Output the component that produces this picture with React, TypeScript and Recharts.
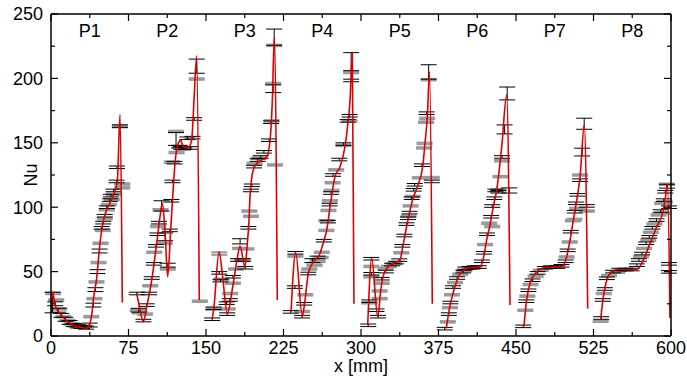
import React from "react";
import { ComposedChart, Line, Scatter, ErrorBar, XAxis, YAxis, Label } from "recharts";

const FONT = '"Liberation Sans", Arial, Helvetica, sans-serif';

// axis ticks (minor ticks between the labelled ones)
const xTicks = [0, 37.5, 75, 112.5, 150, 187.5, 225, 262.5, 300, 337.5, 375, 412.5, 450, 487.5, 525, 562.5, 600];
const yTicks = [0, 25, 50, 75, 100, 125, 150, 175, 200, 225, 250];

const periodNames = ["P1", "P2", "P3", "P4", "P5", "P6", "P7", "P8"];
const periodCenters = [37.5, 112.5, 187.5, 262.5, 337.5, 412.5, 487.5, 562.5];

// simulated Nu curve, one list per period: [x mm, Nu]
const p1 = [[0, 18], [1.5, 34], [4, 24], [8, 18], [12, 14.5], [17, 10.5], [22, 8], [28, 7], [34, 6], [37.7, 10], [40, 20], [41, 28], [44.2, 45], [47.4, 72], [50.6, 89], [53.9, 98], [58.7, 106], [62, 113], [64.2, 120], [66.8, 172], [69, 26]];
const p2 = [[83, 33], [86, 21], [89.3, 11], [92.6, 22.6], [97.4, 43], [102.3, 72], [105.5, 92.6], [107.7, 103], [110.3, 82], [112.9, 46], [115.8, 82], [118.4, 116], [120, 134], [123.2, 149.6], [125.5, 152], [128, 147], [132.9, 146.5], [136.1, 152], [138.4, 183], [141, 217.6], [143.5, 28]];
const p3 = [[156.1, 13.5], [157.7, 22.6], [162.6, 65.3], [166.1, 46], [170.6, 17.4], [175.8, 38], [179.7, 57.6], [182.9, 69.8], [187.7, 53.7], [190, 72], [191.5, 88], [192.6, 108], [195.8, 129], [200.6, 135], [208.7, 139], [212, 152], [214.2, 183], [216.1, 232], [219, 28]];
const p4 = [[232.3, 18.7], [236.8, 64.6], [243.2, 15.3], [245.8, 27.8], [249, 48.5], [253.9, 57.6], [260.3, 64], [264.2, 74.4], [266.8, 82], [270, 100], [274.8, 123.7], [279.7, 131.5], [284.5, 147], [287.7, 167.8], [289.4, 183], [291.6, 220], [293.2, 25]];
const p5 = [[306.5, 8.3], [310.4, 60.2], [316.2, 14.8], [319.1, 35.5], [322.3, 48.5], [328, 55], [337.7, 58.9], [340.4, 69.2], [344.2, 85], [350, 106], [355, 117], [359.7, 131.5], [361.9, 149.6], [364.2, 170], [366.3, 205], [369, 25]];
const p6 = [[382.5, 6], [386, 23], [389, 33], [392, 41], [395.8, 48.5], [400.6, 51.5], [405, 53], [415.2, 53.5], [418.4, 60.2], [421.6, 74.4], [424.8, 86], [428, 100.3], [431.3, 113.3], [436.2, 147], [441, 187.2], [444.2, 24]];
const p7 = [[457.7, 7.5], [460.3, 27.8], [463.5, 40.8], [470, 49.8], [478, 53.2], [494.2, 53.7], [499, 61.4], [502.3, 74.4], [505.5, 90], [510.3, 113.3], [512, 123.7], [516.1, 164], [519.4, 21.3]];
const p8 = [[532, 13.5], [534.5, 30.3], [537.8, 43.3], [542.6, 49.8], [547.5, 51.6], [566.8, 51.6], [573.2, 58.9], [579.7, 71.9], [586.2, 84.8], [592.6, 97.8], [595, 110], [596.6, 118], [599, 14]];

// measurements: [x mm, Nu, error]
const blackBars = [
  [1.5, 26, 8], [4, 25, 1.5], [7, 20, 1.5], [10, 16, 1.5], [14, 13, 1.5], [18, 10.5, 1.5], [22, 8.5, 1.2], [26, 7.5, 1.2], [30, 7, 1.2], [34, 6.5, 1.2], [37.5, 8.5, 1.5],
  [41, 24, 1.5], [43, 36, 1.5], [45, 50, 1.5], [47, 66, 1.5], [49, 84, 1], [50.5, 88, 1], [52, 93.4, 1], [54, 100, 1], [57, 105.5, 1], [58, 109, 1], [60.5, 113, 1], [63.5, 120, 1], [63.8, 131, 1], [66.8, 163, 1],
  [83, 33, 1], [85, 20, 1.5], [89.5, 12, 1], [92.5, 24, 1], [95, 33, 1], [97.5, 45, 1], [99.5, 56, 1], [101.5, 70, 1], [103, 79, 1], [104.5, 88, 1], [107, 101, 4], [110.5, 77, 3], [113, 55, 1.5],
  [115, 82, 1], [116.5, 105, 1], [117.5, 120, 1], [119.5, 134.6, 1], [121, 153, 5], [124, 147, 1], [126, 146, 1], [128, 145.5, 1], [132, 153.5, 1], [135, 146, 1], [137, 154, 1], [138.5, 168.5, 1], [141, 209.5, 5.5],
  [156, 13, 1], [157.5, 21.5, 1], [162.8, 49, 1], [164, 43, 1], [170, 25.5, 1], [170.5, 17, 1], [173, 28, 1], [176, 46, 1], [181, 59, 1], [183, 73.5, 2], [186, 59, 1], [188, 53, 1],
  [191, 84, 1], [193.5, 113, 1], [194.5, 117, 1], [196.5, 131.5, 1], [200, 136.6, 1], [203, 139, 1], [206, 143, 1], [211, 152, 1], [213, 166, 1], [215, 192, 3], [216, 232, 6.3],
  [232, 18.7, 1], [236, 38, 1], [236.5, 64.6, 1], [243, 15, 1], [245, 25, 1], [249, 48.5, 1], [253, 58.5, 1.5], [258, 61, 1], [264, 74, 1], [268, 88.8, 1], [269.5, 102, 1], [271, 111, 1],
  [273, 125, 1], [279, 137, 1], [283, 149, 1], [287, 167, 1], [289, 171, 1], [290.5, 213, 7], [290.5, 198.4, 1],
  [307, 8.3, 1], [310, 60, 1], [310, 48.3, 1], [308, 27, 1], [315, 20, 1], [316.5, 15, 1], [320, 44.5, 1], [324, 50, 1], [330, 55.5, 1], [334, 57, 1], [337, 58.9, 1], [340, 70, 1], [342, 78, 1],
  [344, 86.9, 1], [345.5, 91.4, 1], [347, 95.8, 1], [349, 107, 1], [351, 113.5, 1], [352, 117.4, 1], [359, 132.6, 1], [363.5, 173, 1], [365.5, 205, 5.6], [368.5, 120, 1],
  [381, 5.7, 1], [385, 17, 1], [386.5, 26, 1], [389, 38, 1], [393, 45, 1], [399, 50, 1], [401, 52.5, 1], [405, 53, 1], [410, 53.5, 1], [414, 53.5, 1], [417, 58, 1], [419, 64.6, 1], [422, 79, 1],
  [426, 92.6, 1], [427, 100.9, 1], [429, 107, 1], [430, 113, 1], [433, 112, 1], [436.5, 139, 1], [439, 160.4, 3.5], [441.5, 188.3, 5], [443.5, 113, 2],
  [457, 7.5, 1], [460, 27, 1], [462, 35.5, 1], [466, 43.3, 1], [471, 49, 1], [478, 53, 1], [484, 53.5, 1], [490, 53.5, 1], [494, 54.5, 1], [498, 58, 1], [500, 66.5, 1], [503, 81, 1],
  [507, 96.5, 1], [508, 103, 1], [509.5, 109.6, 1], [512, 121, 1], [514, 142.8, 3], [516, 164.8, 4.3], [518.5, 101, 1],
  [532.5, 14, 1], [534, 28, 1], [536, 36.5, 1], [538, 44.8, 1], [544, 50, 1], [550, 51.6, 1], [556, 51.6, 1], [562, 51.6, 1], [567, 55, 1], [569, 59, 1], [572, 64, 1], [576, 72, 1], [579, 77, 1],
  [582, 84, 1], [586, 90, 1], [590, 97, 1], [593, 105.5, 1], [594.5, 112, 1], [596, 116.3, 1.5], [598, 100, 1], [598, 56, 1], [598, 49.8, 1],
];
const grayBars = [
  [2, 33, 0.6], [5, 28, 0.6], [8, 21, 0.6], [12, 15, 0.6], [16, 12, 0.6], [20, 9.5, 0.6], [24, 8, 0.6], [28, 7, 0.6], [32, 7.5, 0.6], [39, 15, 0.6], [42, 29, 0.6], [44, 42, 0.6], [46, 57, 0.6],
  [48, 72, 0.6], [50, 82, 0.6], [52, 91, 0.6], [54, 98, 0.6], [56, 102, 0.6], [59, 106, 0.6], [61, 110, 0.6], [66.5, 162.5, 0.6], [69, 118, 0.6], [69, 115, 0.6],
  [84, 20, 0.6], [86, 18, 0.6], [91, 17, 0.6], [96, 39, 0.6], [100, 65, 0.6], [103.5, 85, 0.6], [106, 98, 0.6], [110, 72, 0.6], [113, 52, 0.6], [117, 135, 0.6], [121, 158.8, 0.6],
  [121.5, 142.4, 0.6], [125, 147, 0.6], [129, 146, 0.6], [141, 199.5, 0.6], [144, 27, 0.6],
  [157, 21, 0.6], [162.8, 64, 1], [165, 44, 0.6], [171, 21, 0.6], [173.5, 33, 0.6], [176, 41, 0.6], [179, 52, 0.6], [183, 68, 0.6], [185, 59, 0.6], [189, 67.6, 0.6], [192, 97, 0.6],
  [193.5, 93, 0.6], [197, 134, 0.6], [201, 138, 0.6], [213.5, 167, 0.6], [215, 196, 0.6], [216, 225.6, 0.6], [216.8, 132.8, 0.6],
  [236.5, 62, 0.6], [243, 19, 0.6], [246, 32, 0.6], [250, 52, 0.6], [255, 55, 0.6], [258, 58, 0.6], [261, 61, 0.6], [262, 65, 0.6], [266.5, 82, 0.6], [266.5, 89.5, 0.6], [268.5, 97.5, 0.6],
  [270, 105, 0.6], [271.5, 113, 0.6], [272.5, 119, 0.6], [276, 129, 0.6], [283, 148, 0.6], [289, 167, 0.6], [290.5, 204.6, 0.6],
  [310, 54, 0.6], [310, 46, 0.6], [308, 25.8, 0.6], [318, 35, 0.6], [318, 29, 0.6], [320, 41, 0.6], [324, 52.5, 0.6], [327, 54, 0.6], [332, 56, 0.6], [339, 64.6, 0.6], [346, 93, 0.6],
  [348, 101, 0.6], [350, 108.3, 0.6], [357, 122.8, 0.6], [361, 146, 0.6], [361.5, 149.5, 0.6], [363, 166, 0.6], [364, 169, 0.6], [365.5, 199, 0.6], [368.5, 123, 0.6],
  [384, 11, 0.6], [386, 22, 0.6], [388, 32, 0.6], [391, 41.5, 0.6], [396, 48, 0.6], [400, 51, 0.6], [408, 52.5, 0.6], [420, 71, 0.6], [424, 87.5, 0.6], [427, 85, 0.6], [433, 113.4, 0.6],
  [435, 123.7, 0.6], [436.5, 136, 0.6],
  [459, 20, 0.6], [461, 31, 0.6], [464, 40, 0.6], [469, 46.5, 0.6], [474, 51, 0.6], [499, 61.4, 0.6], [502, 73, 0.6], [505, 89.5, 0.6], [506.5, 90.5, 0.6], [509, 99, 0.6], [512, 125, 0.6], [518.5, 97, 0.6],
  [532, 11.5, 0.6], [535, 33, 0.6], [540, 47, 0.6], [548, 49.5, 0.6], [571, 61.4, 0.6], [574, 68, 0.6], [578, 74.5, 0.6], [580.5, 80.6, 0.6], [584, 87, 0.6], [588, 94, 0.6], [591.5, 103, 0.6],
  [592, 95.5, 0.6], [594, 104, 0.6], [596, 117.8, 0.6],
];

const curves = [p1, p2, p3, p4, p5, p6, p7, p8].map((c) => c.map(([x, y]) => ({ x, y })));
const blackData = blackBars.map(([x, y, err]) => ({ x, y, err }));
const grayData = grayBars.map(([x, y, err]) => ({ x, y, err }));
const labelData = periodNames.map((name, i) => ({ x: periodCenters[i], y: 232, name }));

const isMajorX = (v: number) => v % 75 === 0;
const isMajorY = (v: number) => v % 50 === 0;

function BottomTick({ x, y, payload }: any) {
  const major = isMajorX(payload.value);
  return (
    <g>
      <line x1={x} x2={x} y1={y} y2={y - (major ? 7 : 4)} stroke="#000" strokeWidth={1.2} />
      {major && (
        <text x={x} y={y + 17.5} textAnchor="middle" fontSize={18} fontFamily={FONT} fill="#000">
          {payload.value}
        </text>
      )}
    </g>
  );
}

function TopTick({ x, y, payload }: any) {
  const major = isMajorX(payload.value);
  return <line x1={x} x2={x} y1={y} y2={y + (major ? 7 : 4)} stroke="#000" strokeWidth={1.2} />;
}

function LeftTick({ x, y, payload }: any) {
  const major = isMajorY(payload.value);
  return (
    <g>
      <line x1={x} x2={x + (major ? 7 : 4)} y1={y} y2={y} stroke="#000" strokeWidth={1.2} />
      {major && (
        <text x={x - 8} y={y} dy="0.36em" textAnchor="end" fontSize={18} fontFamily={FONT} fill="#000">
          {payload.value}
        </text>
      )}
    </g>
  );
}

function RightTick({ x, y, payload }: any) {
  const major = isMajorY(payload.value);
  return <line x1={x} x2={x - (major ? 7 : 4)} y1={y} y2={y} stroke="#000" strokeWidth={1.2} />;
}

const noDot = () => <g />;

export default function App() {
  return (
    <div style={{ position: "absolute", left: 0, top: 0, background: "#fff" }}>
      <ComposedChart width={687} height={380} margin={{ top: 13, right: 15, bottom: 0, left: 0 }}>
        <XAxis
          dataKey="x"
          type="number"
          domain={[0, 600]}
          ticks={xTicks}
          interval={0}
          allowDataOverflow
          height={44}
          tickSize={0}
          tickMargin={0}
          tickLine={false}
          axisLine={{ stroke: "#000", strokeWidth: 1.5 }}
          tick={(p: any) => <BottomTick {...p} />}
        >
          <Label
            content={({ viewBox }: any) => (
              <text x={viewBox.x + viewBox.width / 2} y={viewBox.y + 36} textAnchor="middle" fontSize={18} fontFamily={FONT} fill="#000">
                x [mm]
              </text>
            )}
          />
        </XAxis>
        <XAxis
          xAxisId="top"
          orientation="top"
          dataKey="x"
          type="number"
          domain={[0, 600]}
          ticks={xTicks}
          interval={0}
          allowDataOverflow
          height={1}
          tickSize={0}
          tickMargin={0}
          tickLine={false}
          axisLine={{ stroke: "#000", strokeWidth: 1.5 }}
          tick={(p: any) => <TopTick {...p} />}
        />
        <YAxis
          type="number"
          domain={[0, 250]}
          ticks={yTicks}
          interval={0}
          allowDataOverflow
          width={51}
          tickSize={0}
          tickMargin={0}
          tickLine={false}
          axisLine={{ stroke: "#000", strokeWidth: 1.5 }}
          tick={(p: any) => <LeftTick {...p} />}
        >
          <Label
            content={({ viewBox }: any) => {
              const cx = 31;
              const cy = viewBox.y + viewBox.height / 2;
              return (
                <text x={cx} y={cy} transform={`rotate(-90, ${cx}, ${cy})`} textAnchor="middle" dy="0.36em" fontSize={18} fontFamily={FONT} fill="#000">
                  Nu
                </text>
              );
            }}
          />
        </YAxis>
        <YAxis
          yAxisId="right"
          orientation="right"
          type="number"
          domain={[0, 250]}
          ticks={yTicks}
          interval={0}
          allowDataOverflow
          width={1}
          tickSize={0}
          tickMargin={0}
          tickLine={false}
          axisLine={{ stroke: "#000", strokeWidth: 1.5 }}
          tick={(p: any) => <RightTick {...p} />}
        />

        <Scatter data={grayData} dataKey="y" shape={noDot} isAnimationActive={false}>
          <ErrorBar dataKey="err" direction="y" width={8} stroke="#9a9a9a" strokeWidth={2} isAnimationActive={false} />
        </Scatter>
        <Scatter data={blackData} dataKey="y" shape={noDot} isAnimationActive={false}>
          <ErrorBar dataKey="err" direction="y" width={8} stroke="#000" strokeWidth={1} isAnimationActive={false} />
        </Scatter>

        {curves.map((c, i) => (
          <Line
            key={i}
            data={c}
            dataKey="y"
            type="monotone"
            stroke="#dd0000"
            strokeWidth={1.6}
            dot={false}
            activeDot={false}
            isAnimationActive={false}
          />
        ))}

        <Scatter
          data={labelData}
          dataKey="y"
          isAnimationActive={false}
          shape={(p: any) => (
            <text x={p.cx} y={p.cy} textAnchor="middle" fontSize={18} fontFamily={FONT} fill="#000">
              {p.payload.name}
            </text>
          )}
        />
      </ComposedChart>
    </div>
  );
}
